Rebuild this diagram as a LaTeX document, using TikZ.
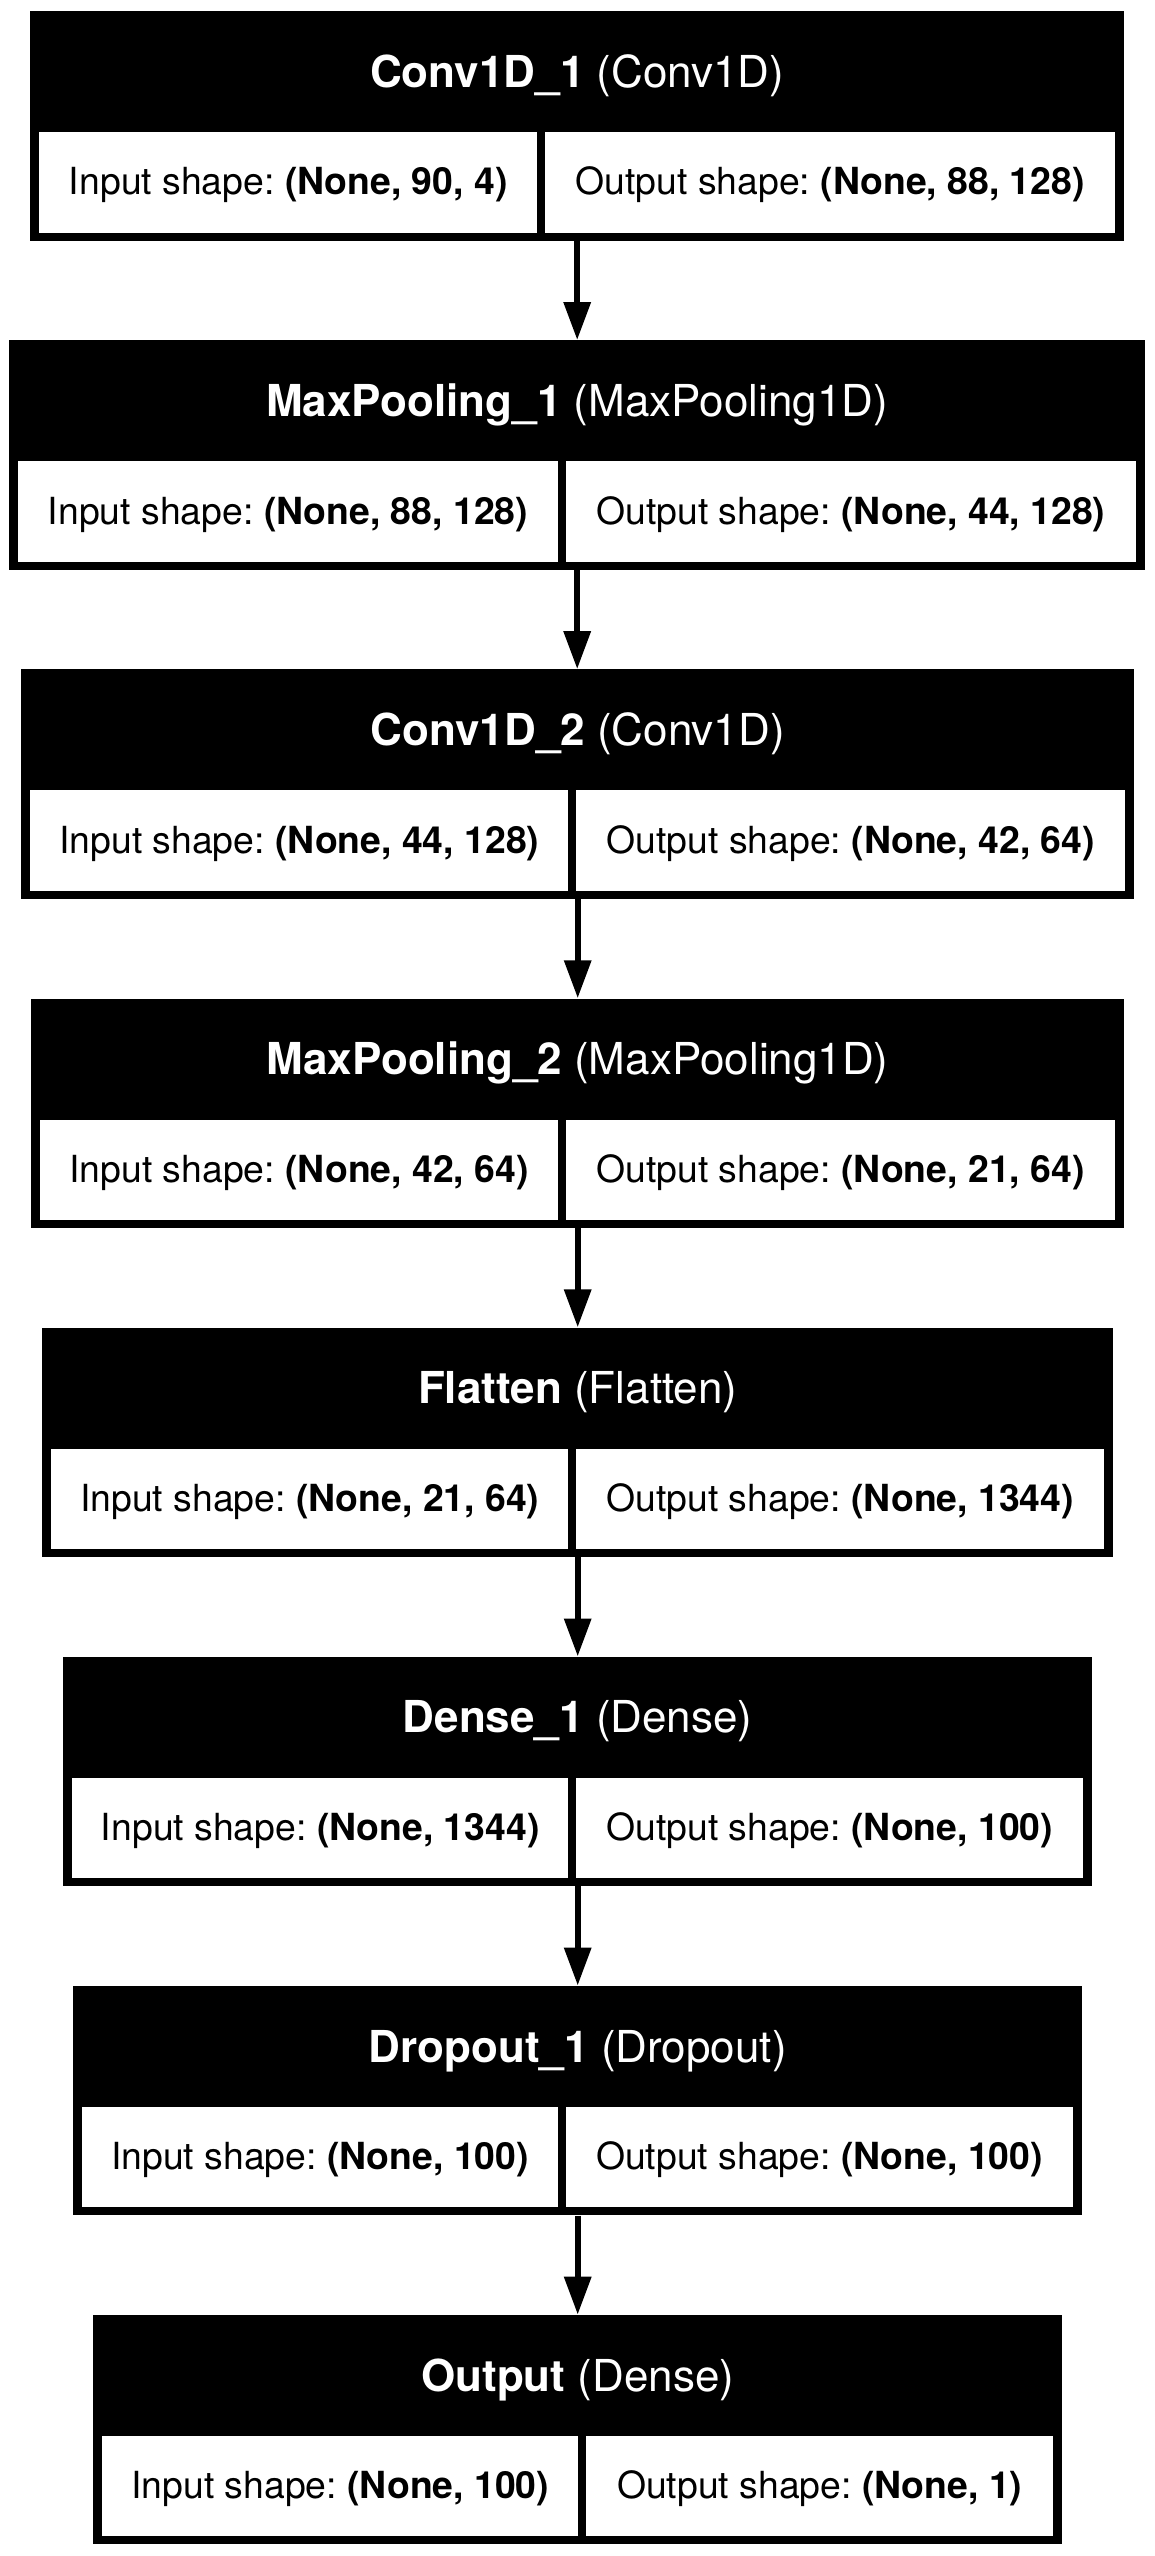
\documentclass[tikz,border=0pt]{standalone}
\usepackage{fontspec}
\setmainfont{TeX Gyre Heros}
\usetikzlibrary{arrows.meta}
\frenchspacing
\tikzset{
  layerframe/.style={fill=black, draw=none, inner sep=0pt, anchor=north west, minimum height=229.5pt},
  headcell/.style={inner sep=0pt, anchor=north west, minimum height=121pt, text=white,
    font=\fontsize{44}{48}\selectfont\frenchspacing, text height=31.5pt, text depth=0pt},
  shapecell/.style={fill=white, inner sep=0pt, anchor=north west, minimum height=100.5pt, text=black,
    font=\fontsize{37.35}{40}\selectfont\frenchspacing, text height=25pt, text depth=0pt},
  conn/.style={line width=6.3pt, -{Triangle[length=38pt,width=26pt]}},
}
\newcommand\kerasbox[8]{%
  \node[layerframe, minimum width={(#4-#3)*1pt}] (#1) at (#3,#2) {};
  \node[headcell, minimum width={(#4-#3)*1pt}] (#1-head) at (#3,#2) {#6};
  \node[shapecell, minimum width={(#5-4-#3-9)*1pt}] (#1-in) at ({#3+9},{#2+121}) {Input shape: \textbf{#7}};
  \node[shapecell, minimum width={(#4-9-#5-4)*1pt}] (#1-out) at ({#5+4},{#2+121}) {Output shape: \textbf{#8}};
}
\begin{document}
\begin{tikzpicture}[x=1pt,y=-1pt]
\fill[white] (0,0) rectangle (1155,2556);
\useasboundingbox (0,0) rectangle (1155,2556);
\kerasbox{b1}{11}{30}{1124}{541}{\textbf{Conv1D\_1} (Conv1D)}{(None, 90, 4)}{(None, 88, 128)}
\kerasbox{b2}{340.1}{9}{1145}{561.5}{\textbf{MaxPooling\_1} (MaxPooling1D)}{(None, 88, 128)}{(None, 44, 128)}
\kerasbox{b3}{669.2}{21}{1134}{572}{\textbf{Conv1D\_2} (Conv1D)}{(None, 44, 128)}{(None, 42, 64)}
\kerasbox{b4}{998.3}{31}{1124}{561.5}{\textbf{MaxPooling\_2} (MaxPooling1D)}{(None, 42, 64)}{(None, 21, 64)}
\kerasbox{b5}{1327.4}{42}{1113}{572}{\textbf{Flatten} (Flatten)}{(None, 21, 64)}{(None, 1344)}
\kerasbox{b6}{1656.5}{63}{1092}{572}{\textbf{Dense\_1} (Dense)}{(None, 1344)}{(None, 100)}
\kerasbox{b7}{1985.6}{73}{1082}{561.5}{\textbf{Dropout\_1} (Dropout)}{(None, 100)}{(None, 100)}
\kerasbox{b8}{2314.7}{93}{1062}{582}{\textbf{Output} (Dense)}{(None, 100)}{(None, 1)}
\foreach \a/\b in {b1/b2,b2/b3,b3/b4,b4/b5,b5/b6,b6/b7,b7/b8}
  \draw[conn] (\a.south) -- (\a.south |- \b.north);
\end{tikzpicture}
\end{document}
